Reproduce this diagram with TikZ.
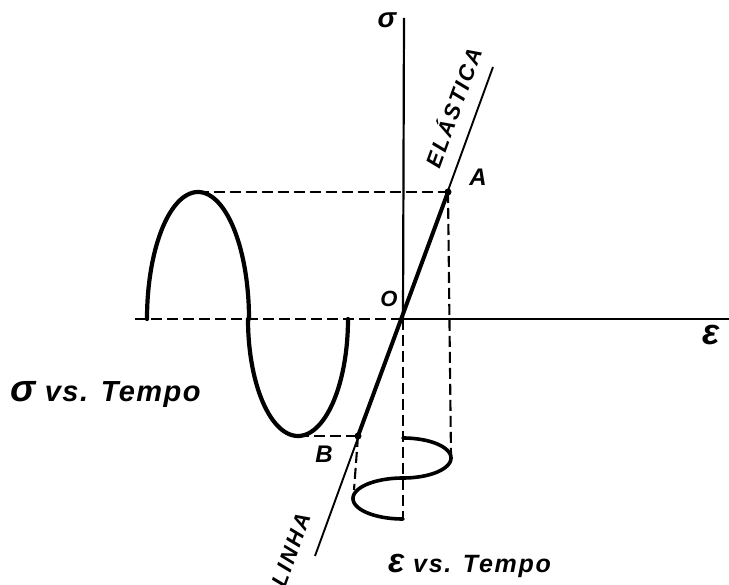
\documentclass[tikz,border=0pt]{standalone}
\usepackage{fontspec}
\setmainfont{Liberation Sans}
\begin{document}
\begin{tikzpicture}[x=1pt,y=-1pt,
  axis/.style={line width=2.2pt},
  curve/.style={line width=4.2pt, line cap=round, line join=round},
  guide/.style={line width=2.1pt, dash pattern=on 11pt off 5pt},
  lbl/.style={inner sep=0pt, font=\bfseries\itshape\fontsize{24}{24}\selectfont\addfontfeature{LetterSpace=6}},
  dotmark/.style={circle, fill, inner sep=0pt, minimum size=7pt}]
\useasboundingbox (0,0) rectangle (729,585);
% key points
\coordinate (O) at (403,319);
\coordinate (Stop) at (404,18);
\coordinate (Hstart) at (135,319);
\coordinate (Hend) at (729,319);
\coordinate (Ltop) at (493,67);
\coordinate (Lbot) at (315,556);
\coordinate (Peak) at (198,192);
\coordinate (Trough) at (298,436);
\coordinate (Sbot) at (403,520);
\coordinate (Rmax) at (451,456);
\coordinate (Lmin) at (354,490);
\node[dotmark] (A) at (448,192) {};
\node[dotmark] (B) at (358,436) {};
% axes
\draw[axis] (O) -- (Stop);
\draw[axis] (O) -- (Hend);
\draw[guide] (Hstart) -- (O);
\draw[guide] (O) -- (Sbot);
% projection guides
\draw[guide] (Peak) -- (A.center);
\draw[guide] (Trough) -- (B.center);
\draw[guide] (A.center) -- (Rmax);
\draw[guide] (B.center) -- (Lmin);
% elastic line
\draw[line width=1.9pt] (Lbot) -- (Ltop);
\draw[line width=4pt] (B.center) -- (A.center);
% sigma vs time (two half-ellipses)
\draw[curve] plot[domain=0:180,samples=61,smooth] ({198-51*cos(\x)},{319-127*sin(\x)})
  -- plot[domain=0:180,samples=61,smooth] ({298-50*cos(\x)},{319+117*sin(\x)});
% epsilon vs time
\draw[line width=3.6pt, line cap=round, line join=round]
  plot[domain=0:180,samples=61,smooth] ({403+48*sin(\x)},{438+20*(1-cos(\x))})
  -- plot[domain=0:180,samples=61,smooth] ({403-50*sin(\x)},{478+20.5*(1-cos(\x))});
% labels
\node[lbl, font=\bfseries\itshape\fontsize{28}{28}\selectfont] (sig) at (387,20) {σ};
\node[lbl, font=\bfseries\itshape\fontsize{36}{36}\selectfont] (eps) at (711,335) {ε};
\node[lbl] (lA) at (478,177) {A};
\node[lbl] (lB) at (324,454) {B};
\node[lbl, font=\bfseries\itshape\fontsize{22}{22}\selectfont] (lO) at (389,299) {O};
\node[lbl, rotate=70, font=\bfseries\itshape\fontsize{22}{22}\selectfont\addfontfeature{LetterSpace=10}] (el) at (452,107) {ELÁSTICA};
\node[lbl, rotate=70, font=\bfseries\itshape\fontsize{22}{22}\selectfont\addfontfeature{LetterSpace=10}] (li) at (291,550) {LINHA};
\node[lbl, anchor=base west, font=\bfseries\itshape\fontsize{29}{29}\selectfont\addfontfeature{LetterSpace=5}] (st) at (10,402) {{\fontsize{38}{38}\selectfont σ} vs. Tempo};
\node[lbl, anchor=base west, font=\bfseries\itshape\fontsize{25}{25}\selectfont\addfontfeature{LetterSpace=7}] (et) at (388,572) {{\fontsize{34}{34}\selectfont ε} vs. Tempo};
\end{tikzpicture}
\end{document}
